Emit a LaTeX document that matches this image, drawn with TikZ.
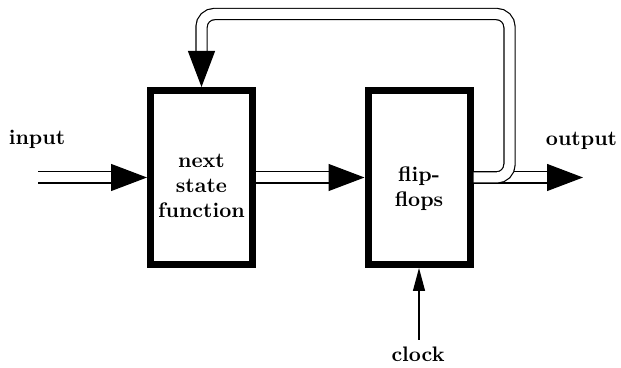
\documentclass[tikz,border=0pt]{standalone}
\usetikzlibrary{arrows.meta}
\begin{document}
\begin{tikzpicture}[x=0.5pt,y=-0.5pt,
  lbl/.style={font=\fontsize{10.5}{12.5}\selectfont\bfseries},
  block/.style={draw, line width=3.5pt, minimum width=51pt, minimum height=87pt,
    inner sep=0pt},
  blocktext/.style={lbl, align=center, inner sep=0pt, anchor=base},
  bus/.style={double, double distance=5pt, line width=0.6pt},
  bigtip/.style={-{Triangle[length=18pt,width=13.5pt]}},
  thin/.style={line width=0.6pt, -{Triangle[length=11.5pt,width=6pt]}}]
\useasboundingbox (0,0) rectangle (621,368);

% blocks
\node[block] (nsf) at (201.5,177.5) {};
\node[block] (ff)  at (419,177.5) {};
% block captions, placed by the baseline of their last line
\node[blocktext] (nsftext) at (201.5,218) {next\\state\\function};
\node[blocktext] (fftext)  at (419,207) {flip-\\flops};

% free ends
\coordinate (in)  at (38,177.5);
\coordinate (out) at (583,177.5);
\coordinate (clk) at (419,340);

% labels
\node[lbl, anchor=base] (inlbl)  at (37,145) {input};
\node[lbl, anchor=base] (outlbl) at (581.5,146) {output};
\node[lbl, anchor=base] (clklbl) at (418,362) {clock};

% signal paths
\draw[bus, bigtip] (in) -- (nsf.west);
\draw[bus, bigtip] (nsf.east) -- (ff.west);
\draw[bus, bigtip] (ff.east) -- (out);
\draw[bus, bigtip, rounded corners=6.5pt]
  (ff.east) -- (509.5,177.5) -- (509.5,14) -- (201.5,14) -- (nsf.north);
\draw[thin] (clk) -- (ff.south);
\end{tikzpicture}
\end{document}
